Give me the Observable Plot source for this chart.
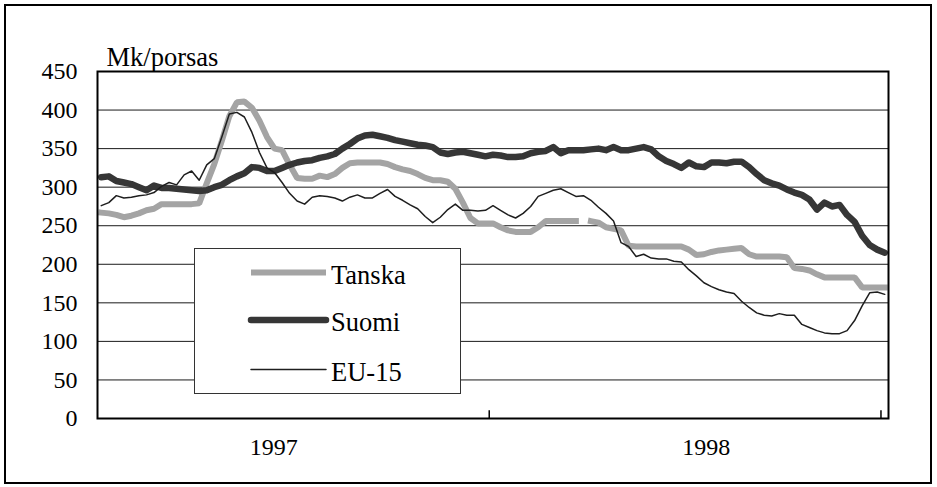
<!DOCTYPE html>
<html><head><meta charset="utf-8">
<script src="https://cdn.jsdelivr.net/npm/d3@7"></script>
<script src="https://cdn.jsdelivr.net/npm/@observablehq/plot@0.6"></script>
<style>
body{margin:0;background:#fff;}
#wrap{position:relative;width:937px;height:487px;overflow:hidden;font-family:"Liberation Serif","Times New Roman",serif;}
#wrap svg.plot{position:absolute;left:0;top:0;}
#wrap text{font-family:"Liberation Serif","Times New Roman",serif !important;}
#border{position:absolute;left:4px;top:4px;width:928px;height:480px;box-sizing:border-box;border:2px solid #000;pointer-events:none;}
#legend{position:absolute;left:194px;top:248px;width:267px;height:146px;box-sizing:border-box;border:1px solid #333;background:#fff;}
</style></head><body><div id="wrap"><div id="border"></div><div id="legend"></div></div>
<script>
// Weekly piglet prices, Mk/porsas, weeks of 1997-1998
const tanska = [267,266,264,261,263,266,270,272,278,278, 278,278,278,279,305,330,360,392,410,411,
  403,386,365,350,348,329,312,311,311,315, 313,317,325,331,332,332,332,332,330,326,
  323,321,317,312,309,309,307,298,280,260, 253,253,253,248,244,242,242,242,248,256,
  256,256,256,256,null,256,254,248,246,244, 224,223,223,223,223,223,223,223,219,212,
  213,216,218,219,220,221,213,210,210,210, 210,209,195,194,192,187,183,183,183,183,
  183,170,170,170,170];
const suomi = [313,314,308,306,304,300,296,302,299,299, 298,297,296,295,296,300,303,309,314,318,
  326,325,321,321,325,329,332,334,335,338, 340,343,350,356,363,367,368,366,364,361,
  359,357,355,354,352,345,343,345,346,344, 342,340,342,341,339,339,340,344,346,347,
  352,344,348,348,348,349,350,348,352,348, 348,350,352,349,340,334,330,325,332,327,
  326,332,332,331,333,333,326,317,309,305, 302,297,293,290,284,271,280,275,277,264,
  255,237,225,219,215];
const eu15 = [276,280,289,286,287,289,290,293,301,306, 303,316,321,309,329,337,365,395,397,391,
  371,345,325,319,306,292,282,278,287,289, 288,286,282,287,290,286,286,292,297,288,
  283,277,272,262,254,261,271,278,270,270, 269,270,276,270,264,260,266,275,288,292,
  296,298,293,288,289,283,274,266,256,228, 223,210,213,208,207,207,204,203,193,185,
  176,171,167,164,162,152,144,137,134,133, 136,134,134,122,118,114,111,110,110,114,
  127,146,163,164,161];
const seriesNames = ["Tanska", "Suomi", "EU-15"];
const years = ["1997", "1998"];
const yTicks = [0, 50, 100, 150, 200, 250, 300, 350, 400, 450];
const yTitle = "Mk/porsas";

// layout/options (not data)
const FONT = '"Liberation Serif", "Times New Roman", serif';
const yearLabelWeeks = [22.9, 80.3];
const yearBoundaries = [51.5, 103.5];
const styles = {
  "Tanska": {stroke: "#a4a4a4", strokeWidth: 6, strokeLinecap: "square", strokeLinejoin: "miter"},
  "Suomi": {stroke: "#363636", strokeWidth: 6.5, strokeLinecap: "round", strokeLinejoin: "round"},
  "EU-15": {stroke: "#1e1e1e", strokeWidth: 1.5, strokeLinecap: "round", strokeLinejoin: "round"}
};
const valuesBy = {"Tanska": tanska, "Suomi": suomi, "EU-15": eu15};
const rowsFor = name => valuesBy[name].map((v, i) => ({week: i, value: v}));

const chart = Plot.plot({
  width: 937, height: 487,
  marginLeft: 97, marginRight: 49, marginTop: 71, marginBottom: 69,
  style: {fontFamily: FONT, fontSize: "24px", color: "#000", background: "transparent", overflow: "visible"},
  x: {domain: [-0.5, tanska.length - 0.5], ticks: yearLabelWeeks, tickFormat: d => years[yearLabelWeeks.indexOf(d)], tickSize: 0, tickPadding: 19, label: null},
  y: {domain: [0, 450], ticks: yTicks, tickSize: 0, tickPadding: 20, label: null},
  marks: [
    Plot.ruleY(yTicks.filter(d => d > 0 && d < 450), {stroke: "#1a1a1a", strokeWidth: 1}),
    Plot.ruleX(yearBoundaries, {y1: 0, y2: 10, stroke: "#000", strokeWidth: 1.5}),
    ...seriesNames.map(name => Plot.line(rowsFor(name), {x: "week", y: "value", ...styles[name]})),
    Plot.frame({stroke: "#000", strokeWidth: 2}),
    Plot.text([yTitle], {text: d => d, frameAnchor: "top-left", dx: 9, dy: -24, textAnchor: "start", fontSize: 26.5})
  ]
});
chart.classList.add("plot");
chart.style.fontFamily = FONT;
chart.querySelectorAll("text, g").forEach(t => { t.style.fontFamily = FONT; });
const wrap = document.getElementById("wrap");
wrap.insertBefore(chart, wrap.firstChild);

// legend
const lg = d3.select("#legend").append("svg").attr("width", 265).attr("height", 144)
  .style("position", "absolute").style("left", "0px").style("top", "0px");
const rowY = [23.5, 71, 120.5];
seriesNames.forEach((name, i) => {
  const s = styles[name];
  lg.append("line").attr("x1", 56).attr("x2", 131).attr("y1", rowY[i]).attr("y2", rowY[i])
    .attr("stroke", s.stroke).attr("stroke-width", s.strokeWidth)
    .attr("stroke-linecap", name === "Tanska" ? "butt" : s.strokeLinecap);
  lg.append("text").attr("x", 136).attr("y", rowY[i] + 11)
    .style("font-family", FONT).attr("font-size", 26.5)
    .attr("fill", "#000").text(name);
});
</script>
</body></html>
